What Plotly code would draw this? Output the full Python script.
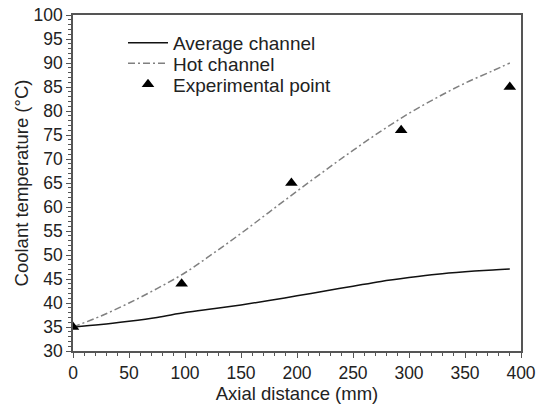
import plotly.graph_objects as go

x_curve = [0, 25, 50, 75, 100, 125, 150, 175, 200, 225, 250, 275, 300, 325, 350, 375, 390]
hot_channel = [35, 37.3, 40, 43, 46.3, 50.3, 54.5, 58.9, 63.3, 67.6, 71.8, 75.8, 79.5, 82.8, 85.8, 88.4, 90]
avg_channel = [35, 35.5, 36.2, 37.0, 38.0, 38.8, 39.6, 40.5, 41.5, 42.5, 43.5, 44.5, 45.3, 46.0, 46.5, 46.9, 47.1]
x_exp = [0, 97, 195, 293, 390]
exp_point = [35, 44, 65, 76, 85]

font_family = "Liberation Sans, Arial, sans-serif"
txt_color = "#222222"

fig = go.Figure()
fig.add_trace(go.Scatter(x=x_curve, y=avg_channel, mode="lines", name="Average channel",
                         line=dict(color="#111111", width=1.5), line_shape="spline", legend="legend"))
fig.add_trace(go.Scatter(x=x_curve, y=hot_channel, mode="lines", name="Hot channel",
                         line=dict(color="#808080", width=1.5, dash="7px,3px,2px,3px"), line_shape="spline",
                         legend="legend2"))
fig.add_trace(go.Scatter(x=x_exp, y=exp_point, mode="markers", name="Experimental point",
                         marker=dict(symbol="triangle-up", size=11, color="black"), legend="legend3"))

axis_common = dict(
    showline=True, linecolor="#555555", linewidth=1.5, mirror=True,
    ticks="outside", ticklen=5, tickwidth=1.2, tickcolor="#555555",
    showgrid=False, zeroline=False, automargin=False,
    tickfont=dict(family=font_family, size=17.5, color=txt_color),
)

fig.update_xaxes(range=[0, 400], dtick=50, tick0=0,
                 title=dict(text="Axial distance (mm)", font=dict(family=font_family, size=18.5, color=txt_color), standoff=4),
                 minor=dict(dtick=10, ticks="outside", ticklen=3, tickcolor="#555555", tickwidth=1),
                 **axis_common)
fig.update_yaxes(range=[30, 100], dtick=5, tick0=30,
                 title=dict(text="Coolant temperature (°C)", font=dict(family=font_family, size=18.5, color=txt_color), standoff=0),
                 minor=dict(dtick=1, ticks="outside", ticklen=3, tickcolor="#555555", tickwidth=1),
                 **axis_common)

leg_common = dict(x=0.1116, xanchor="left", yanchor="middle", bgcolor="rgba(0,0,0,0)",
                  font=dict(family=font_family, size=19, color=txt_color), itemwidth=40)

fig.update_layout(
    width=545, height=410,
    margin=dict(l=73, r=24, t=15, b=59),
    plot_bgcolor="white", paper_bgcolor="white",
    font=dict(family=font_family, size=18, color=txt_color),
    legend=dict(y=0.9167, **leg_common),
    legend2=dict(y=0.8557, **leg_common),
    legend3=dict(y=0.7932, **leg_common),
    showlegend=True,
)

fig.write_html("out.html", config={"displayModeBar": False},
               post_script="document.body.style.margin='0';document.body.style.overflow='hidden';")
